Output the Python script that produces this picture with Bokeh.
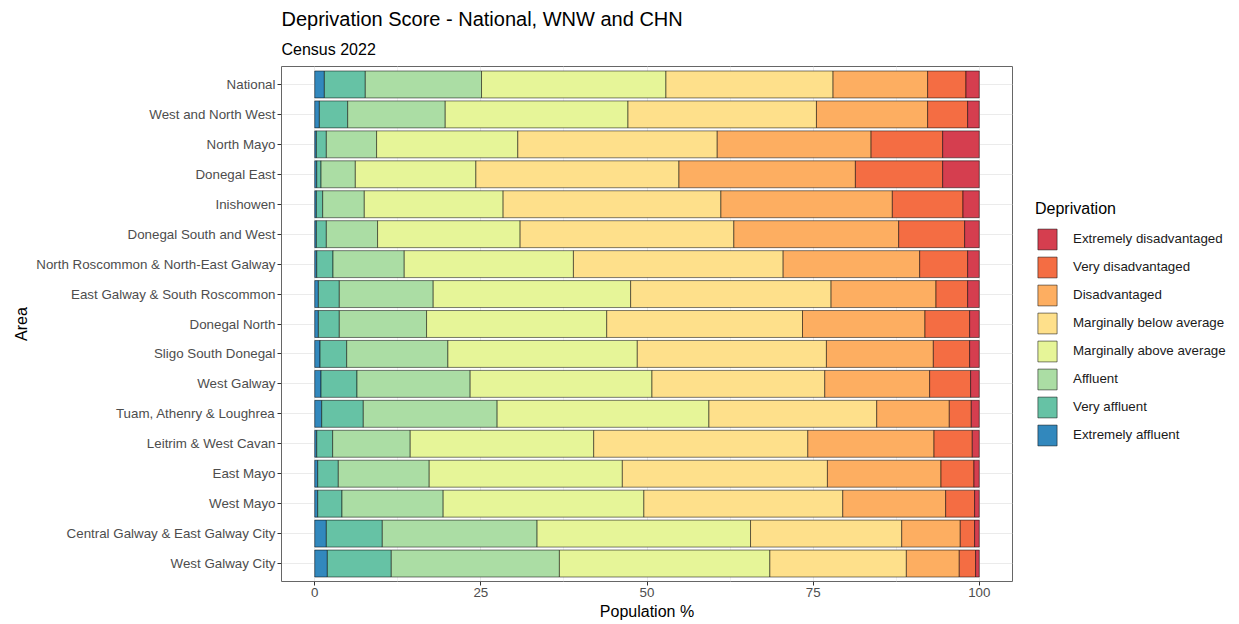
from bokeh.plotting import figure
from bokeh.models import ColumnDataSource, FactorRange, Legend, LegendItem, Title, FixedTicker
from bokeh.embed import file_html
from bokeh.resources import INLINE

areas = ["National", "West and North West", "North Mayo", "Donegal East", "Inishowen",
         "Donegal South and West", "North Roscommon & North-East Galway",
         "East Galway & South Roscommon", "Donegal North", "Sligo South Donegal",
         "West Galway", "Tuam, Athenry & Loughrea", "Leitrim & West Cavan", "East Mayo",
         "West Mayo", "Central Galway & East Galway City", "West Galway City"]

categories = ["Extremely affluent", "Very affluent", "Affluent", "Marginally above average",
              "Marginally below average", "Disadvantaged", "Very disadvantaged",
              "Extremely disadvantaged"]

extremely_affluent = [1.45, 0.70, 0.25, 0.30, 0.25, 0.25, 0.30, 0.55, 0.55, 0.80, 0.95, 1.05, 0.30, 0.45, 0.45, 1.75, 1.90]
very_affluent = [6.16, 4.26, 1.50, 0.65, 0.95, 1.50, 2.45, 3.15, 3.15, 4.01, 5.41, 6.26, 2.40, 3.10, 3.65, 8.42, 9.62]
affluent = [17.49, 14.68, 7.56, 5.16, 6.26, 7.71, 10.72, 14.13, 13.13, 15.23, 17.03, 20.14, 11.67, 13.68, 15.23, 23.29, 25.30]
marg_above = [27.75, 27.50, 21.25, 18.14, 20.89, 21.45, 25.46, 29.71, 27.11, 28.50, 27.36, 31.87, 27.61, 29.06, 30.20, 32.12, 31.67]
marg_below = [25.15, 28.36, 30.01, 30.56, 32.77, 32.16, 31.56, 30.16, 29.46, 28.46, 26.00, 25.25, 32.22, 30.86, 29.93, 22.75, 20.54]
disadvantaged = [14.23, 16.73, 23.15, 26.55, 25.80, 24.80, 20.54, 15.79, 18.43, 16.09, 15.78, 10.92, 18.99, 17.09, 15.48, 8.81, 7.96]
very_disadvantaged = [5.77, 6.02, 10.77, 13.13, 10.63, 9.93, 7.22, 4.76, 6.72, 5.46, 6.17, 3.31, 5.76, 4.96, 4.36, 2.16, 2.46]
extremely_disadvantaged = [2.00, 1.75, 5.51, 5.51, 2.45, 2.20, 1.75, 1.75, 1.45, 1.45, 1.30, 1.20, 1.05, 0.80, 0.70, 0.70, 0.55]

colors = ["#3288BD", "#66C2A5", "#ABDDA4", "#E6F598", "#FEE08B", "#FDAE61", "#F46D43", "#D53E4F"]
x_ticks = [0, 25, 50, 75, 100]
x_minor = [12.5, 37.5, 62.5, 87.5]

keys = ["ea", "va", "af", "maa", "mba", "dis", "vd", "ed"]
series = [extremely_affluent, very_affluent, affluent, marg_above, marg_below,
          disadvantaged, very_disadvantaged, extremely_disadvantaged]
data = {"area": areas}
for k, s in zip(keys, series):
    data[k] = s
source = ColumnDataSource(data)

FONT = "Liberation Sans"

p = figure(
    y_range=FactorRange(factors=list(reversed(areas)), range_padding=0.2 / 17),
    x_range=(-5, 105),
    frame_width=731, frame_height=515,
    min_border_left=281, min_border_right=227, min_border_top=66, min_border_bottom=43,
    output_backend="svg", toolbar_location=None, title=None,
)

renderers = p.hbar_stack(keys, y="area", height=0.9, color=colors, source=source,
                         line_color="black", line_width=0.6, line_alpha=0.85)

items = [LegendItem(label=c, renderers=[r]) for c, r in zip(categories, renderers)]
items = list(reversed(items))
legend = Legend(items=items, location="center_left", title="Deprivation",
                glyph_width=24, glyph_height=26, label_height=26, spacing=2,
                label_standoff=14, padding=4, margin=23,
                border_line_color=None, background_fill_color="white",
                label_text_font=FONT, label_text_font_size="13.33px", label_text_color="#1A1A1A",
                title_text_font=FONT, title_text_font_size="16px", title_text_font_style="normal",
                title_text_color="black", title_standoff=8)
p.add_layout(legend, "right")

p.add_layout(Title(text="Census 2022", text_font=FONT, text_font_size="16px",
                   text_font_style="normal", text_color="black", align="left", standoff=17), "above")
p.add_layout(Title(text="Deprivation Score - National, WNW and CHN", text_font=FONT,
                   text_font_size="20px", text_font_style="normal", text_color="black",
                   align="left", standoff=2), "above")

p.xaxis.ticker = FixedTicker(ticks=x_ticks, minor_ticks=x_minor)
p.xaxis.axis_label = "Population %"
p.yaxis.axis_label = "Area"
for ax in (p.xaxis[0], p.yaxis[0]):
    ax.axis_line_color = None
    ax.major_tick_line_color = "#333333"
    ax.major_tick_out = 4
    ax.major_tick_in = 0
    ax.minor_tick_line_color = None
    ax.major_label_text_font = FONT
    ax.major_label_text_font_size = "13.33px"
    ax.major_label_text_color = "#4D4D4D"
    ax.major_label_standoff = 2
    ax.axis_label_text_font = FONT
    ax.axis_label_text_font_size = "16px"
    ax.axis_label_text_font_style = "normal"
    ax.axis_label_text_color = "black"
    ax.axis_label_standoff = 3

p.xgrid.grid_line_color = "#EBEBEB"
p.xgrid.grid_line_width = 1
p.xgrid.minor_grid_line_color = "#F2F2F2"
p.xgrid.minor_grid_line_width = 1
p.ygrid.grid_line_color = "#EBEBEB"
p.ygrid.grid_line_width = 1

p.outline_line_color = "#666666"
p.outline_line_width = 1
p.background_fill_color = "white"
p.border_fill_color = "white"

open("out.html", "w").write(file_html(p, INLINE))
